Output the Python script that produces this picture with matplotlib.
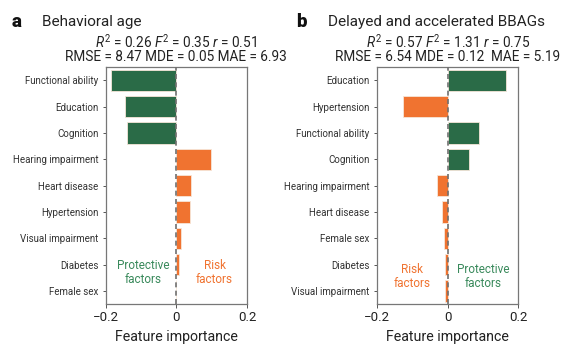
import matplotlib
matplotlib.use("Agg")
import matplotlib.pyplot as plt

plt.rcParams['font.family'] = ['Roboto', 'DejaVu Sans']
plt.rcParams['mathtext.fontset'] = 'custom'
plt.rcParams['mathtext.rm'] = 'Roboto'
plt.rcParams['mathtext.it'] = 'Roboto:italic'

GREEN = '#2a6b47'
ORANGE = '#f07330'

# Panel a
a_labels = ["Functional ability", "Education", "Cognition", "Hearing impairment",
            "Heart disease", "Hypertension", "Visual impairment", "Diabetes", "Female sex"]
a_values = [-0.185, -0.147, -0.141, 0.098, 0.042, 0.038, 0.013, 0.007, -0.002]

# Panel b
b_labels = ["Education", "Hypertension", "Functional ability", "Cognition",
            "Hearing impairment", "Heart disease", "Female sex", "Diabetes", "Visual impairment"]
b_values = [0.165, -0.126, 0.088, 0.060, -0.030, -0.017, -0.010, -0.007, -0.007]
b_colors = [GREEN, ORANGE, GREEN, GREEN, ORANGE, ORANGE, ORANGE, ORANGE, ORANGE]
a_colors = [GREEN, GREEN, GREEN, ORANGE, ORANGE, ORANGE, ORANGE, ORANGE, GREEN]

xticks = [-0.2, 0, 0.2]
xticklabels = ["\u22120.2", "0", "0.2"]

fig = plt.figure(figsize=(5.73, 3.5), dpi=100)
axa = fig.add_axes([0.185, 0.131, 0.246, 0.677])
axb = fig.add_axes([0.6585, 0.131, 0.246, 0.677])

def draw(ax, labels, values, colors):
    y = list(range(len(labels)))
    ax.barh(y, values, height=0.8, color=colors, edgecolor='#f6e6d8', linewidth=0.6, zorder=2)
    ax.axvline(0, color='#707070', linestyle=(0, (3, 2)), linewidth=1.2, zorder=3)
    ax.set_ylim(len(labels) - 0.5, -0.5)
    ax.set_xlim(-0.2, 0.2)
    ax.set_yticks(y)
    ax.set_yticklabels(labels, fontsize=7, color='#333333')
    ax.set_xticks(xticks)
    ax.set_xticklabels(xticklabels, fontsize=9.5, color='#222222')
    ax.tick_params(axis='y', length=2.5, width=0.7, color='#555555', pad=3)
    ax.tick_params(axis='x', length=3, width=0.7, color='#555555', pad=2)
    for s in ax.spines.values():
        s.set_color('#777777')
        s.set_linewidth(0.9)
    ax.set_xlabel("Feature importance", fontsize=10.2, color='#222222', labelpad=4)

draw(axa, a_labels, a_values, a_colors)
draw(axb, b_labels, b_values, b_colors)

axa.text(-0.095, 7.3, "Protective\nfactors", color='#3a8a5c', fontsize=8.5,
         ha='center', va='center', linespacing=1.1)
axa.text(0.108, 7.3, "Risk\nfactors", color=ORANGE, fontsize=8.5,
         ha='center', va='center', linespacing=1.1)
axb.text(-0.102, 7.45, "Risk\nfactors", color=ORANGE, fontsize=8.5,
         ha='center', va='center', linespacing=1.1)
axb.text(0.101, 7.45, "Protective\nfactors", color='#3a8a5c', fontsize=8.5,
         ha='center', va='center', linespacing=1.1)

# Titles
fig.text(12/573, 1 - 22/350, "a", fontsize=13.5, fontweight='black', va='center', ha='left', color='#111111')
fig.text(42/573, 1 - 22/350, "Behavioral age", fontsize=11, va='center', ha='left', color='#222222')
fig.text(296/573, 1 - 22/350, "b", fontsize=13.5, fontweight='black', va='center', ha='left', color='#111111')
fig.text(328/573, 1 - 22/350, "Delayed and accelerated BBAGs", fontsize=11, va='center', ha='left', color='#222222')

fig.text(176/573, 1 - 42/350, r"$R^2$ = 0.26 $F^2$ = 0.35 $r$ = 0.51", fontsize=9.8,
         ha='center', va='center', color='#222222')
fig.text(176/573, 1 - 57/350, "RMSE = 8.47 MDE = 0.05 MAE = 6.93", fontsize=9.8,
         ha='center', va='center', color='#222222')
fig.text(448/573, 1 - 42/350, r"$R^2$ = 0.57 $F^2$ = 1.31 $r$ = 0.75", fontsize=9.8,
         ha='center', va='center', color='#222222')
fig.text(448/573, 1 - 57/350, "RMSE = 6.54 MDE = 0.12  MAE = 5.19", fontsize=9.8,
         ha='center', va='center', color='#222222')

fig.savefig("out.png", dpi=100)
